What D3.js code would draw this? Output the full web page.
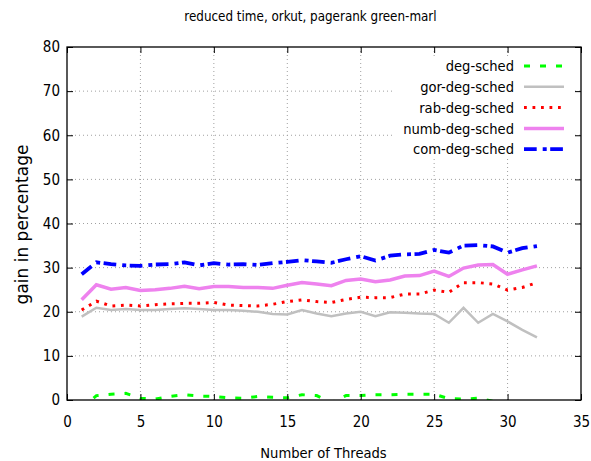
<!DOCTYPE html>
<html><head><meta charset="utf-8">
<script src="https://cdn.jsdelivr.net/npm/d3@7"></script>
<style>
body{margin:0;background:#fff;}
svg text{font-family:"DejaVu Sans Condensed","DejaVu Sans",sans-serif;font-stretch:condensed;fill:#000;}
</style></head><body>
<svg id="c" width="591" height="461"></svg>
<script>
const threads = [1,2,3,4,5,6,7,8,9,10,11,12,13,14,15,16,17,18,19,20,21,22,23,24,25,26,27,28,29,30,31,32];
const degSched = [-2.0,1.0,1.3,1.5,0.4,0.2,0.8,1.2,0.9,0.8,0.5,0.4,0.8,0.6,0.5,1.2,1.0,-0.6,1.0,1.0,1.2,1.2,1.3,1.3,1.3,0.3,0.2,0.4,-0.3,-1.0,-0.8,-0.6];
const gorDegSched = [18.9,20.9,20.4,20.6,20.4,20.4,20.6,20.8,20.6,20.4,20.4,20.2,20.0,19.5,19.4,20.4,19.6,19.0,19.6,20.0,19.0,19.9,19.8,19.6,19.5,17.5,20.9,17.5,19.5,17.8,15.9,14.2];
const rabDegSched = [20.4,22.4,21.3,21.5,21.3,21.6,21.8,21.9,21.9,22.1,21.5,21.4,21.3,21.7,22.3,22.7,22.3,22.1,22.8,23.3,23.2,23.2,24.0,24.0,24.9,24.4,26.6,26.6,26.3,24.9,25.5,26.6];
const numbDegSched = [22.7,26.1,25.1,25.5,24.8,25.0,25.3,25.8,25.2,25.7,25.7,25.5,25.5,25.3,26.0,26.6,26.3,25.9,27.1,27.4,26.8,27.2,28.1,28.2,29.2,28.0,29.9,30.6,30.7,28.5,29.5,30.4];
const comDegSched = [28.5,31.2,30.8,30.5,30.4,30.7,30.8,31.2,30.5,31.0,30.7,30.8,30.6,31.0,31.3,31.7,31.4,31.1,31.9,32.6,31.6,32.7,33.0,33.1,34.0,33.4,35.0,35.1,34.8,33.4,34.4,34.9];
const seriesNames = ["deg-sched","gor-deg-sched","rab-deg-sched","numb-deg-sched","com-deg-sched"];
const xTicks = [0,5,10,15,20,25,30,35];
const yTicks = [0,10,20,30,40,50,60,70,80];
const title = "reduced time, orkut, pagerank green-marl";
const xLabel = "Number of Threads";
const yLabel = "gain in percentage";

const styles = [
  {color:"#00ff00", width:3, dash:"6,10"},
  {color:"#c0c0c0", width:2.5, dash:null},
  {color:"#ff0000", width:3, dash:"2.8,5.7"},
  {color:"#ee82ee", width:3.5, dash:null},
  {color:"#0000ff", width:3.8, dash:"12.7,6,4,3.5"}
];
const allData = [degSched, gorDegSched, rabDegSched, numbDegSched, comDegSched];

const L=67, R=581, T=47, B=400;
const svg = d3.select("#c");
const x = d3.scaleLinear().domain([0,35]).range([L,R]);
const y = d3.scaleLinear().domain([0,80]).range([B,T]);

svg.append("defs").append("clipPath").attr("id","clip").append("rect")
  .attr("x",L).attr("y",T).attr("width",R-L).attr("height",B-T);

// grid
const grid = svg.append("g");
xTicks.filter(d=>d>0&&d<35).forEach(d=>{
  grid.append("line").attr("x1",x(d)).attr("x2",x(d)).attr("y1",T).attr("y2",B)
    .attr("stroke","#a0a0a0").attr("stroke-width",1).attr("stroke-dasharray","1,3");
});
yTicks.filter(d=>d>0&&d<80).forEach(d=>{
  grid.append("line").attr("x1",L).attr("x2",R).attr("y1",y(d)).attr("y2",y(d))
    .attr("stroke","#a0a0a0").attr("stroke-width",1).attr("stroke-dasharray","1,3");
});

// legend background (opaque key)
svg.append("rect").attr("x",393).attr("y",56).attr("width",180).attr("height",103).attr("fill","#fff");

// lines
const lineG = svg.append("g").attr("clip-path","url(#clip)");
allData.forEach((vals,i)=>{
  const line = d3.line().x((d,j)=>x(threads[j])).y(d=>y(d));
  const p = lineG.append("path").datum(vals).attr("d",line)
    .attr("fill","none").attr("stroke",styles[i].color).attr("stroke-width",styles[i].width)
    .attr("stroke-linejoin","miter");
  if(styles[i].dash) p.attr("stroke-dasharray",styles[i].dash);
});

// axes (inward ticks, mirrored)
const tickLen = 6;
const axB = d3.axisBottom(x).tickValues(xTicks).tickSizeInner(-tickLen).tickSizeOuter(0).tickPadding(16);
const axT = d3.axisTop(x).tickValues(xTicks).tickSizeInner(-tickLen).tickSizeOuter(0).tickFormat("");
const axL = d3.axisLeft(y).tickValues(yTicks).tickSizeInner(-tickLen).tickSizeOuter(0).tickPadding(7);
const axR = d3.axisRight(y).tickValues(yTicks).tickSizeInner(-tickLen).tickSizeOuter(0).tickFormat("");
function styleAx(g){
  g.select(".domain").remove();
  g.selectAll(".tick line").attr("stroke","#000").attr("stroke-width",1);
  g.selectAll("text").attr("font-size","15px").attr("font-family",null);
}
svg.append("g").attr("transform",`translate(0,${B})`).call(axB).call(styleAx);
svg.append("g").attr("transform",`translate(0,${T})`).call(axT).call(styleAx);
svg.append("g").attr("transform",`translate(${L},0)`).call(axL).call(styleAx);
svg.append("g").attr("transform",`translate(${R},0)`).call(axR).call(styleAx);

svg.append("rect").attr("x",L).attr("y",T).attr("width",R-L).attr("height",B-T)
  .attr("fill","none").attr("stroke","#000").attr("stroke-width",1.3);

// legend
const lg = svg.append("g");
seriesNames.forEach((n,i)=>{
  const yy = 66 + i*20.8;
  lg.append("text").attr("x",514).attr("y",yy).attr("dy","0.35em").attr("text-anchor","end")
    .attr("font-size","14.6px").text(n);
  const l = lg.append("line").attr("x1",524).attr("x2",564).attr("y1",yy).attr("y2",yy)
    .attr("stroke",styles[i].color).attr("stroke-width",styles[i].width);
  if(styles[i].dash) l.attr("stroke-dasharray",styles[i].dash);
});

// titles
svg.append("text").attr("x",310.5).attr("y",21).attr("text-anchor","middle").attr("font-size","13.3px").text(title);
svg.append("text").attr("x",323.5).attr("y",458).attr("text-anchor","middle").attr("font-size","14.6px").text(xLabel);
svg.append("text").attr("transform",`translate(28,224.5) rotate(-90)`).attr("text-anchor","middle")
  .attr("font-size","17px").style("font-stretch","normal").style("font-family","'DejaVu Sans',sans-serif").text(yLabel);
</script>
</body></html>
